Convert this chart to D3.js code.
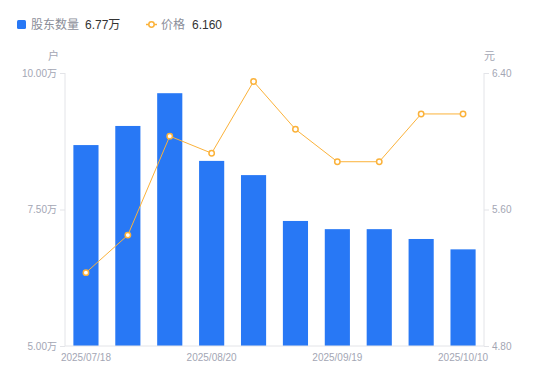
<!DOCTYPE html>
<html><head><meta charset="utf-8">
<script src="https://cdn.jsdelivr.net/npm/d3@7"></script>
<style>
html,body{margin:0;padding:0;background:#fff;}
svg{display:block;font-family:"Liberation Sans","Noto Sans CJK SC",sans-serif;}
</style></head>
<body>
<svg id="c" width="550" height="381"></svg>
<script>
const dates = ["2025/07/18","2025/07/31","2025/08/10","2025/08/20","2025/08/31","2025/09/10","2025/09/19","2025/09/26","2025/09/30","2025/10/10"];
const holders = [8.68, 9.03, 9.63, 8.39, 8.13, 7.29, 7.14, 7.14, 6.96, 6.77]; // 万户
const prices = [5.23, 5.45, 6.03, 5.93, 6.35, 6.07, 5.88, 5.88, 6.16, 6.16];
const leftTicks = [5.00, 7.50, 10.00];
const rightTicks = [4.80, 5.60, 6.40];
const xLabels = ["2025/07/18","2025/08/20","2025/09/19","2025/10/10"];

const svg = d3.select("#c");
const L = 65, R = 484, T = 73, B = 346;
const axisColor = "#e3e4e8", labelColor = "#a3a6b4";
const barColor = "#2878f5", lineColor = "#fbb23a";

const x = d3.scaleBand().domain(dates).range([L, R]).paddingInner(0.4).paddingOuter(0.2);
const yL = d3.scaleLinear().domain([5, 10]).range([B, T]);
const yR = d3.scaleLinear().domain([4.8, 6.4]).range([B, T]);

// bars
svg.append("g").selectAll("rect").data(dates).join("rect")
  .attr("x", d => x(d))
  .attr("width", x.bandwidth())
  .attr("y", (d, i) => yL(holders[i]))
  .attr("height", (d, i) => B - yL(holders[i]))
  .attr("fill", barColor);

// left axis
const la = svg.append("g").attr("transform", `translate(${L},0)`)
  .call(d3.axisLeft(yL).tickValues(leftTicks).tickSize(5).tickPadding(3).tickFormat(d => d3.format(".2f")(d) + "万"));
la.select(".domain").attr("stroke", axisColor).attr("d", `M0,${T}V${B}`);
la.selectAll(".tick line").attr("stroke", axisColor);
la.selectAll(".tick text").attr("fill", labelColor).attr("font-size", 10).attr("font-family", "Liberation Sans, Noto Sans CJK SC, sans-serif");

// right axis
const ra = svg.append("g").attr("transform", `translate(${R},0)`)
  .call(d3.axisRight(yR).tickValues(rightTicks).tickSize(5).tickPadding(3).tickFormat(d3.format(".2f")));
ra.select(".domain").attr("stroke", axisColor).attr("d", `M0,${T}V${B}`);
ra.selectAll(".tick line").attr("stroke", axisColor);
ra.selectAll(".tick text").attr("fill", labelColor).attr("font-size", 10).attr("font-family", "Liberation Sans, Noto Sans CJK SC, sans-serif");

// bottom axis
const ba = svg.append("g").attr("transform", `translate(0,${B})`)
  .call(d3.axisBottom(x).tickValues(xLabels).tickSize(0).tickPadding(8));
ba.select(".domain").attr("stroke", axisColor).attr("d", `M${L},0H${R}`);
ba.selectAll(".tick text").attr("fill", labelColor).attr("font-size", 10).attr("font-family", "Liberation Sans, Noto Sans CJK SC, sans-serif");

// unit labels
svg.append("text").attr("x", 59).attr("y", 60).attr("text-anchor", "end").attr("font-size", 11).attr("fill", labelColor).text("户");
svg.append("text").attr("x", 484).attr("y", 60).attr("text-anchor", "start").attr("font-size", 11).attr("fill", labelColor).text("元");

// price line
const cx = (d) => x(d) + x.bandwidth() / 2;
svg.append("path").datum(prices)
  .attr("fill", "none").attr("stroke", lineColor).attr("stroke-width", 1)
  .attr("d", d3.line().x((d, i) => cx(dates[i])).y(d => yR(d)));
svg.append("g").selectAll("circle").data(prices).join("circle")
  .attr("cx", (d, i) => cx(dates[i])).attr("cy", d => yR(d)).attr("r", 2.7)
  .attr("fill", "#fff").attr("stroke", lineColor).attr("stroke-width", 1.5);

// legend
const lg = svg.append("g").attr("font-size", 12);
lg.append("rect").attr("x", 17).attr("y", 20).attr("width", 9).attr("height", 9).attr("rx", 1.5).attr("fill", barColor);
lg.append("text").attr("x", 31).attr("y", 29).attr("fill", "#8b8e99").text("股东数量");
lg.append("text").attr("x", 85).attr("y", 29).attr("fill", "#333").text(d3.format(".2f")(holders[holders.length-1]) + "万");
lg.append("line").attr("x1", 146).attr("x2", 157).attr("y1", 24.5).attr("y2", 24.5).attr("stroke", lineColor).attr("stroke-width", 1.5);
lg.append("circle").attr("cx", 151.5).attr("cy", 24.5).attr("r", 2.7).attr("fill", "#fff").attr("stroke", lineColor).attr("stroke-width", 1.5);
lg.append("text").attr("x", 161).attr("y", 29).attr("fill", "#8b8e99").text("价格");
lg.append("text").attr("x", 192).attr("y", 29).attr("fill", "#333").text(d3.format(".3f")(prices[prices.length-1]));
</script>
</body></html>
